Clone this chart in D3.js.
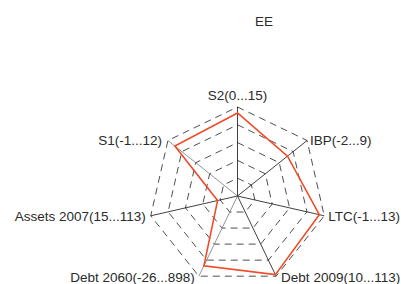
<!DOCTYPE html>
<html>
<head>
<meta charset="utf-8">
<script src="https://cdn.jsdelivr.net/npm/d3@7"></script>
<style>
  html, body { margin: 0; padding: 0; background: #fff; }
  svg { display: block; font-family: "Liberation Sans", Arial, sans-serif; }
</style>
</head>
<body>
<div id="chart"></div>
<script>
const title = 'EE';
const axisNames = ['S2', 'IBP', 'LTC', 'Debt 2009', 'Debt 2060', 'Assets 2007', 'S1'];
const axisMin = [0, -2, -1, 10, -26, 15, -1];
const axisMax = [15, 9, 13, 113, 898, 113, 12];
const values = [14, 5.9, 12.2, 111, 778, 37.5, 10.7];
const gridLevels = [0.2, 0.4, 0.6, 0.8, 1.0];

const WIDTH = 401;
const HEIGHT = 284;
const CX = 237.5;
const CY = 196;
const RADIUS = 89;

const svg = d3.select('#chart')
  .append('svg')
  .attr('width', WIDTH)
  .attr('height', HEIGHT);

const n = axisNames.length;
const angle = d3.scaleLinear().domain([0, n]).range([0, 2 * Math.PI]);
// one linear scale per axis: min at the centre, max at the rim
const rScales = axisNames.map((_, i) => d3.scaleLinear().domain([axisMin[i], axisMax[i]]).range([0, RADIUS]));

function pt(i, r) {
  const a = angle(i);
  return [CX + r * Math.sin(a), CY - r * Math.cos(a)];
}

// Dashed grid polygons
const gridLine = d3.line().curve(d3.curveLinearClosed);
svg.selectAll('.grid')
  .data(gridLevels)
  .enter()
  .append('path')
  .attr('class', 'grid')
  .attr('fill', 'none')
  .attr('stroke', '#222')
  .attr('stroke-width', 0.8)
  .attr('stroke-dasharray', '7,5')
  .attr('d', lvl => gridLine(axisNames.map((_, i) => pt(i, lvl * RADIUS))));

// Axis spokes
svg.selectAll('.spoke')
  .data(axisNames)
  .enter()
  .append('line')
  .attr('class', 'spoke')
  .attr('x1', CX)
  .attr('y1', CY)
  .attr('x2', (_, i) => pt(i, RADIUS)[0])
  .attr('y2', (_, i) => pt(i, RADIUS)[1])
  .attr('stroke', (_, i) => (i === 4 || i === 6) ? '#777' : '#111')
  .attr('stroke-width', 0.8);

// Data polygon
svg.append('path')
  .datum(values)
  .attr('fill', 'none')
  .attr('stroke', '#ef4b28')
  .attr('stroke-width', 1.6)
  .attr('stroke-linejoin', 'miter')
  .attr('d', d => gridLine(d.map((v, i) => pt(i, rScales[i](v)))));

// Axis labels
const fmt = v => `${v}`;
const labelPos = [
  { dx: 0, dy: -12, anchor: 'middle' },
  { dx: 3, dy: 0, anchor: 'start' },
  { dx: 4, dy: 0, anchor: 'start' },
  { dx: 5, dy: 1, anchor: 'start' },
  { dx: -4, dy: 1, anchor: 'end' },
  { dx: -5, dy: 0, anchor: 'end' },
  { dx: -6, dy: 0, anchor: 'end' },
];
svg.selectAll('.axis-label')
  .data(axisNames)
  .enter()
  .append('text')
  .attr('class', 'axis-label')
  .attr('x', (_, i) => pt(i, RADIUS)[0] + labelPos[i].dx)
  .attr('y', (_, i) => pt(i, RADIUS)[1] + labelPos[i].dy)
  .attr('dy', '0.35em')
  .attr('text-anchor', (_, i) => labelPos[i].anchor)
  .attr('font-size', '13.5px')
  .attr('fill', '#2b2b2b')
  .text((d, i) => `${d}(${fmt(axisMin[i])}...${fmt(axisMax[i])})`);

// Title
svg.append('text')
  .attr('x', 264)
  .attr('y', 21)
  .attr('dy', '0.35em')
  .attr('text-anchor', 'middle')
  .attr('font-size', '13.5px')
  .attr('fill', '#2b2b2b')
  .text(title);
</script>
</body>
</html>
